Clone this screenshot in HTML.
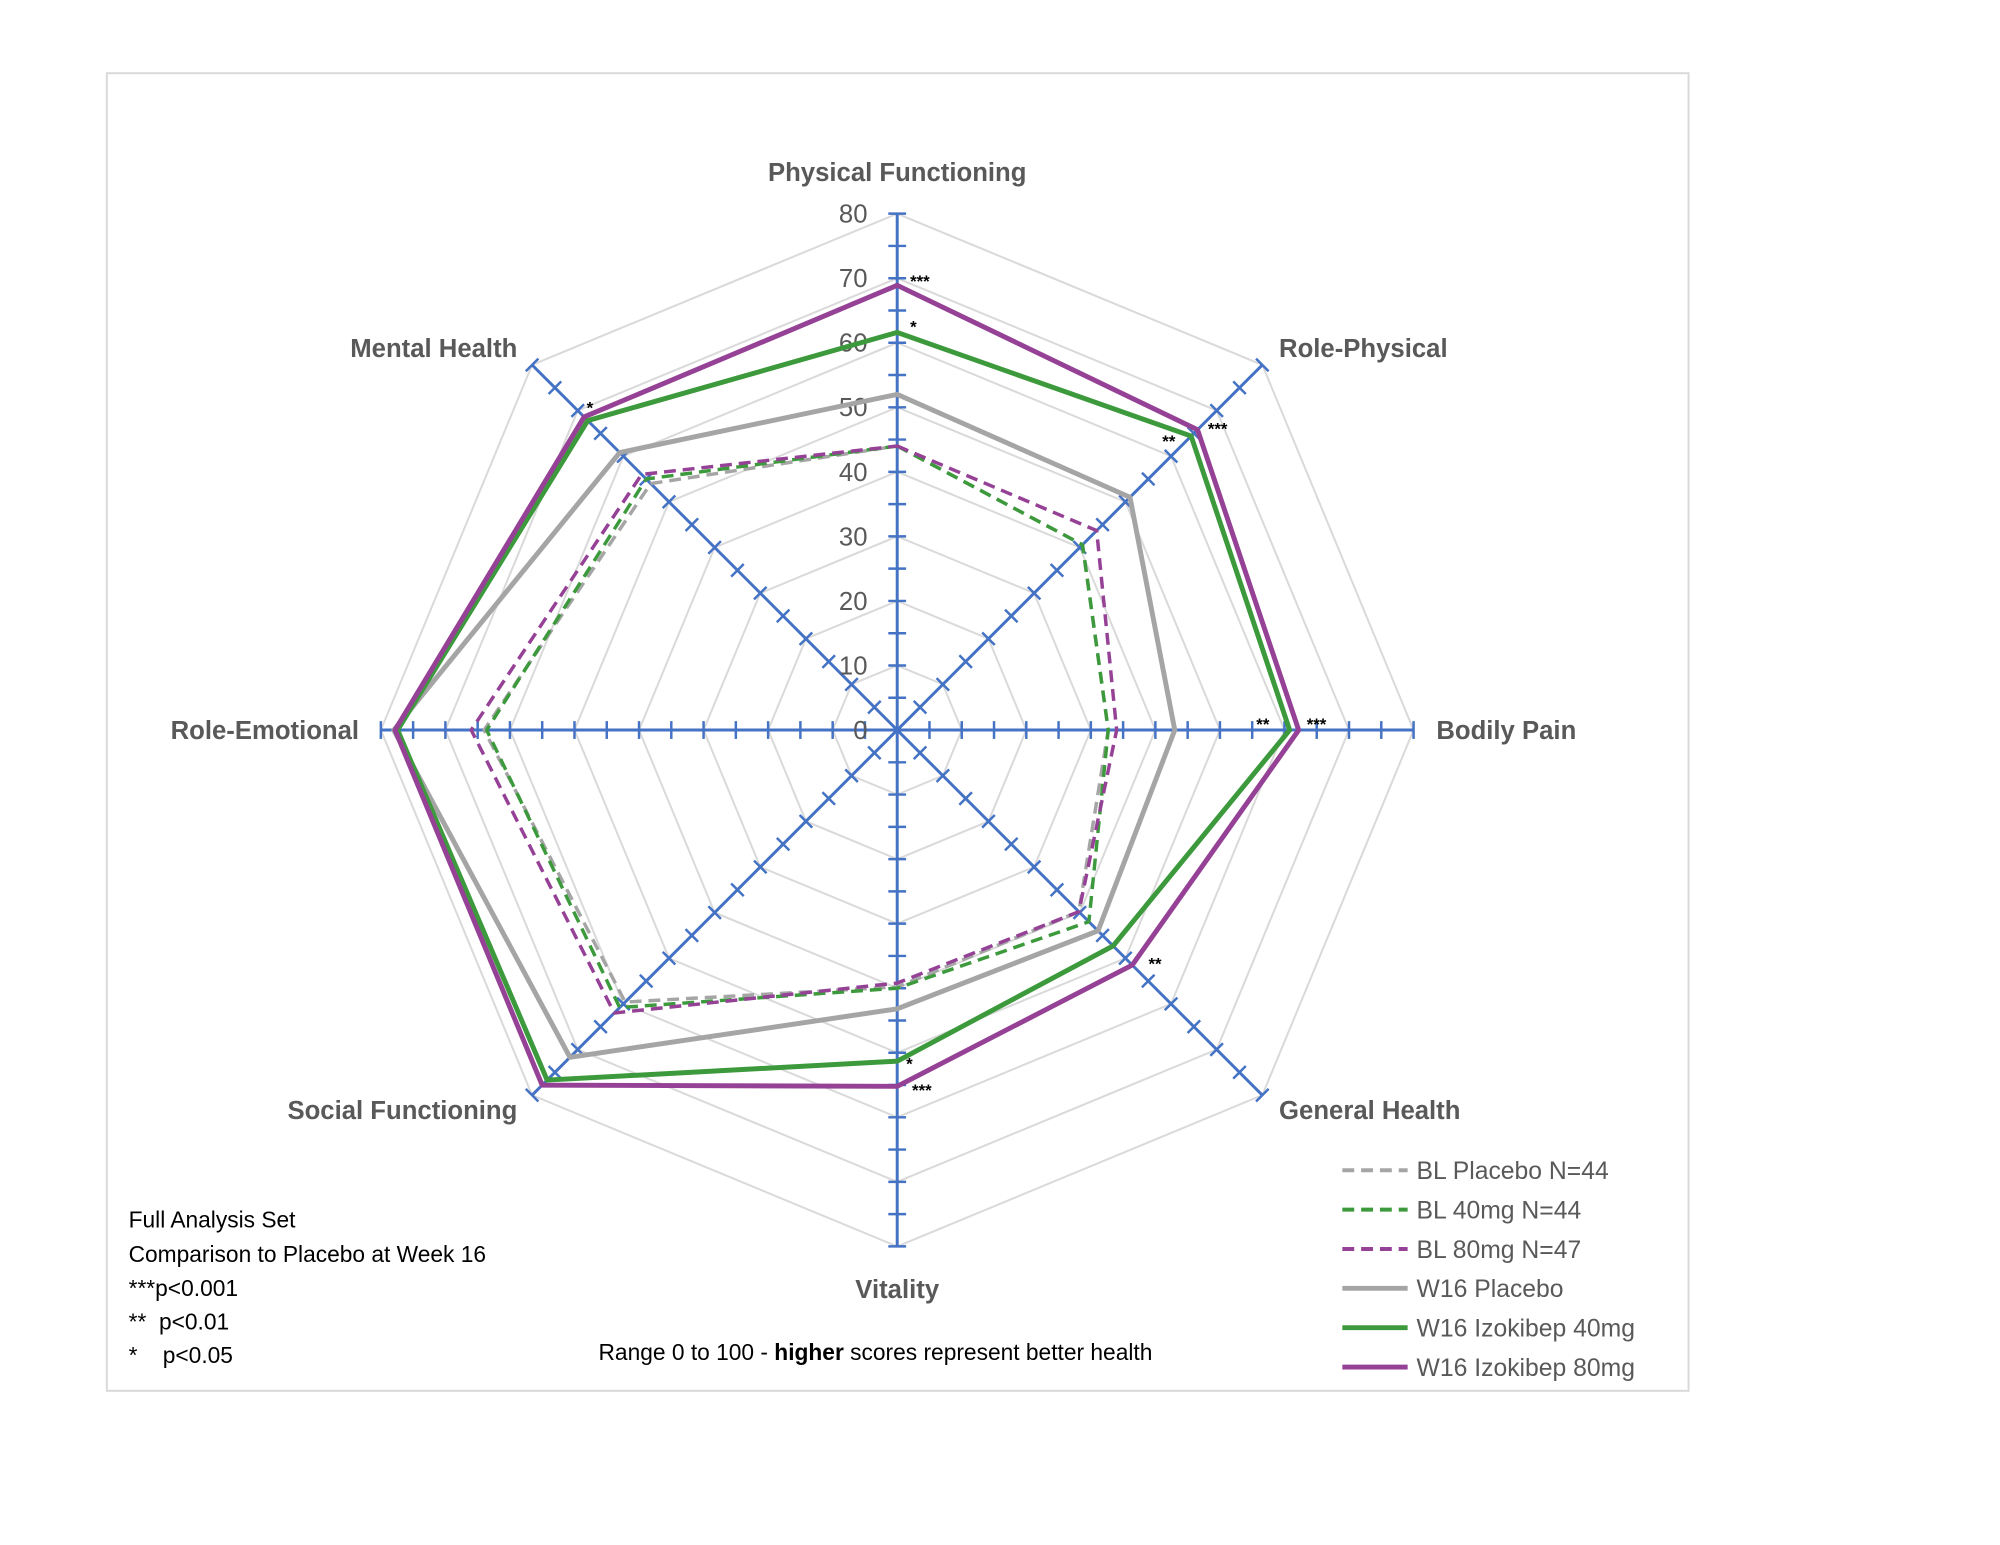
<!DOCTYPE html>
<html><head><meta charset="utf-8">
<style>
body{margin:0;background:#fff;}
svg{display:block;font-family:"Liberation Sans",sans-serif;}
</style></head>
<body>
<svg id="chart" width="2000" height="1545" viewBox="0 0 2000 1545">
<g transform="scale(0.9892)">
<rect x="108" y="74" width="1599" height="1332" fill="#fff" stroke="#d9d9d9" stroke-width="2"/>
<g id="grid"></g>
<g id="axes"></g>
<g id="series"></g>
<g id="labels" font-weight="bold" font-size="26" fill="#595959">
<text x="907" y="183" text-anchor="middle">Physical Functioning</text>
<text x="1293" y="361">Role-Physical</text>
<text x="1452" y="747">Bodily Pain</text>
<text x="1293" y="1131">General Health</text>
<text x="907" y="1312" text-anchor="middle">Vitality</text>
<text x="523" y="1131" text-anchor="end">Social Functioning</text>
<text x="363" y="747" text-anchor="end">Role-Emotional</text>
<text x="523" y="361" text-anchor="end">Mental Health</text>
</g>
<g font-size="17" font-weight="bold" fill="#000">
<text x="920" y="290">***</text>
<text x="920" y="336">*</text>
<text x="1221" y="439">***</text>
<text x="1175" y="452">**</text>
<text x="1270" y="738">**</text>
<text x="1321" y="738">***</text>
<text x="1161" y="980">**</text>
<text x="916" y="1081">*</text>
<text x="922" y="1108">***</text>
<text x="593" y="418">*</text>
</g>
<g font-size="23" fill="#000">
<text x="130" y="1241">Full Analysis Set</text>
<text x="130" y="1276">Comparison to Placebo at Week 16</text>
<text x="130" y="1310">***p&lt;0.001</text>
<text x="130" y="1344">**&#160;&#160;p&lt;0.01</text>
<text x="130" y="1378">*&#160;&#160;&#160;&#160;p&lt;0.05</text>
<text x="885" y="1375" text-anchor="middle">Range 0 to 100 - <tspan font-weight="bold">higher</tspan> scores represent better health</text>
</g>
<g id="legend" font-size="25" fill="#595959"></g>
</g>
</svg>
<script>
const categories=["Physical Functioning","Role-Physical","Bodily Pain","General Health","Vitality","Social Functioning","Role-Emotional","Mental Health"];
const ticks=[0,10,20,30,40,50,60,70,80];
const seriesNames=["BL Placebo N=44","BL 40mg N=44","BL 80mg N=47","W16 Placebo","W16 Izokibep 40mg","W16 Izokibep 80mg"];
const blPlacebo=[44,40.6,32.7,39.8,39.8,59.6,64,54];
const bl40=[44,40.6,32.7,42,40,60.8,63.6,55];
const bl80=[44,43.7,34,39.8,39.2,62,66,56];
const w16Placebo=[52,51,43,44,43.2,71.7,78,60.8];
const w16_40=[61.6,64.4,60.8,47.3,51.3,76.7,77.4,67.8];
const w16_80=[68.9,65.8,62.2,51.5,55.2,77.8,77.8,68.6];
const seriesData=[blPlacebo,bl40,bl80,w16Placebo,w16_40,w16_80];
const colors=["#a5a5a5","#3c9a3c","#954196","#a5a5a5","#3c9a3c","#954196"];
const dashed=[true,true,true,false,false,false];

const NS="http://www.w3.org/2000/svg";
const cx=907,cy=738,maxV=80,maxR=522;
function r(v){return v/maxV*maxR;}
function ang(i){return -Math.PI/2+i*2*Math.PI/categories.length;}
function pt(i,v){return [cx+r(v)*Math.cos(ang(i)),cy+r(v)*Math.sin(ang(i))];}
function mk(tag,attrs,parent){const e=document.createElementNS(NS,tag);for(const k in attrs)e.setAttribute(k,attrs[k]);parent.appendChild(e);return e;}

const grid=document.getElementById('grid');
ticks.slice(1).forEach(t=>{
  const p=categories.map((c,i)=>pt(i,t).join(',')).join(' ');
  const g=mk('polygon',{points:p,fill:'none',stroke:'#d9d9d9','stroke-width':2},grid);
  
  
});
const axes=document.getElementById('axes');
categories.forEach((c,i)=>{
  const e=pt(i,maxV);
  const l=mk('line',{x1:cx,y1:cy,x2:e[0],y2:e[1],stroke:'#4472c4','stroke-width':3},axes);
  
  
  const a=ang(i),px=-Math.sin(a),py=Math.cos(a);
  for(let v=5;v<=maxV;v+=5){
    const p=pt(i,v),h=9;
    const t=mk('line',{x1:p[0]-px*h,y1:p[1]-py*h,x2:p[0]+px*h,y2:p[1]+py*h,stroke:'#4472c4','stroke-width':2.5},axes);
    
    
  }
});
ticks.forEach(t=>{
  const tx=mk('text',{x:cx-30,y:cy-r(t)+9,'text-anchor':'end','font-size':26,fill:'#595959'},axes);
  tx.textContent=t;
  
  
});
const sg=document.getElementById('series');
seriesData.forEach((d,s)=>{
  const p=d.map((v,i)=>pt(i,v).join(',')).join(' ');
  const attrs={points:p,fill:'none',stroke:colors[s],'stroke-width':dashed[s]?3.5:5,'stroke-linejoin':'round'};
  if(dashed[s])attrs['stroke-dasharray']='12,7';
  const pg=mk('polygon',attrs,sg);
  
  
});
const lg=document.getElementById('legend');
seriesNames.forEach((n,s)=>{
  const y=1183+s*39.8;
  const attrs={x1:1357,y1:y,x2:1423,y2:y,stroke:colors[s],'stroke-width':dashed[s]?4:5};
  if(dashed[s])attrs['stroke-dasharray']='12,7';
  const ln=mk('line',attrs,lg);
  
  
  const t=mk('text',{x:1432,y:y+9},lg);
  t.textContent=n;
  
  
});
</script>
</body></html>
